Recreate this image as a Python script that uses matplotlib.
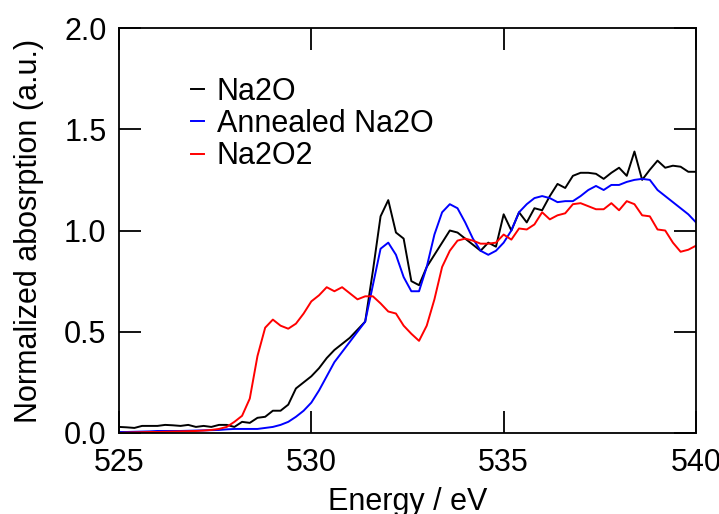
import numpy as np
import matplotlib
matplotlib.use("Agg")
import matplotlib.pyplot as plt

plt.rcParams['font.family'] = ['Liberation Sans', 'DejaVu Sans']

energy = [525.0 + 0.2 * i for i in range(76)]

na2o = [0.030, 0.028, 0.025, 0.035, 0.035, 0.035, 0.040, 0.038, 0.035, 0.040,
        0.030, 0.035, 0.030, 0.040, 0.040, 0.030, 0.055, 0.050, 0.075, 0.080,
        0.110, 0.110, 0.140, 0.220, 0.250, 0.280, 0.320, 0.370, 0.410, 0.440,
        0.470, 0.510, 0.550, 0.800, 1.070, 1.150, 0.990, 0.960, 0.750, 0.730,
        0.820, 0.880, 0.940, 1.000, 0.990, 0.960, 0.930, 0.900, 0.940, 0.920,
        1.080, 1.000, 1.090, 1.040, 1.110, 1.100, 1.170, 1.230, 1.210, 1.270,
        1.285, 1.285, 1.280, 1.255, 1.285, 1.310, 1.270, 1.390, 1.250, 1.300,
        1.345, 1.310, 1.320, 1.315, 1.290, 1.290]

annealed = [0.005, 0.005, 0.006, 0.007, 0.008, 0.010, 0.010, 0.010, 0.010, 0.011,
            0.012, 0.013, 0.014, 0.015, 0.018, 0.020, 0.020, 0.020, 0.020, 0.025,
            0.030, 0.040, 0.055, 0.080, 0.110, 0.150, 0.210, 0.280, 0.350, 0.400,
            0.450, 0.500, 0.550, 0.730, 0.910, 0.940, 0.880, 0.770, 0.700, 0.700,
            0.820, 0.980, 1.090, 1.130, 1.110, 1.040, 0.960, 0.900, 0.880, 0.900,
            0.940, 1.000, 1.090, 1.130, 1.160, 1.170, 1.160, 1.140, 1.145, 1.145,
            1.170, 1.200, 1.220, 1.200, 1.225, 1.225, 1.240, 1.250, 1.255, 1.250,
            1.200, 1.170, 1.140, 1.110, 1.080, 1.040]

na2o2 = [0.000, 0.002, 0.003, 0.004, 0.005, 0.005, 0.006, 0.007, 0.008, 0.009,
         0.010, 0.012, 0.015, 0.020, 0.030, 0.055, 0.085, 0.170, 0.380, 0.520,
         0.560, 0.530, 0.515, 0.540, 0.590, 0.650, 0.680, 0.720, 0.700, 0.720,
         0.690, 0.660, 0.675, 0.675, 0.640, 0.600, 0.590, 0.530, 0.490, 0.455,
         0.530, 0.660, 0.820, 0.900, 0.950, 0.960, 0.950, 0.935, 0.935, 0.940,
         0.980, 0.955, 1.010, 1.005, 1.030, 1.090, 1.055, 1.075, 1.085, 1.130,
         1.135, 1.120, 1.105, 1.105, 1.135, 1.100, 1.145, 1.130, 1.075, 1.070,
         1.005, 1.000, 0.940, 0.895, 0.905, 0.925]

x_ticks = [525, 530, 535, 540]
y_ticks = [0.0, 0.5, 1.0, 1.5, 2.0]

fig = plt.figure(figsize=(7.19, 5.14), dpi=100)
ax = fig.add_axes([0.1655, 0.1576, 0.8025, 0.7879])

ax.plot(energy, na2o, color='black', lw=1.4, label='Na2O')
ax.plot(energy, annealed, color='#0000ff', lw=1.4, label='Annealed Na2O')
ax.plot(energy, na2o2, color='#ff0000', lw=1.4, label='Na2O2')

ax.set_xlim(525, 540)
ax.set_ylim(0, 2.0)
ax.set_xticks(x_ticks)
ax.set_xticklabels([str(t) for t in x_ticks])
ax.set_yticks(y_ticks)
ax.set_yticklabels([f"{t:.1f}" for t in y_ticks])
ax.tick_params(direction='in', length=16, width=1.3, top=True, right=True,
               labelsize=22)
ax.tick_params(axis='x', pad=11)
ax.tick_params(axis='y', pad=9)
for s in ax.spines.values():
    s.set_linewidth(1.3)

ax.set_xlabel('Energy / eV', fontsize=22, labelpad=6)
ax.set_ylabel('Normalized abosrption (a.u.)', fontsize=22, labelpad=14)

leg = ax.legend(loc='upper left', bbox_to_anchor=(0.125, 0.879), frameon=False,
                fontsize=22, handlelength=0.42, handletextpad=0.42,
                labelspacing=0.07, borderaxespad=0, borderpad=0)

fig.savefig('out.png', dpi=100)
